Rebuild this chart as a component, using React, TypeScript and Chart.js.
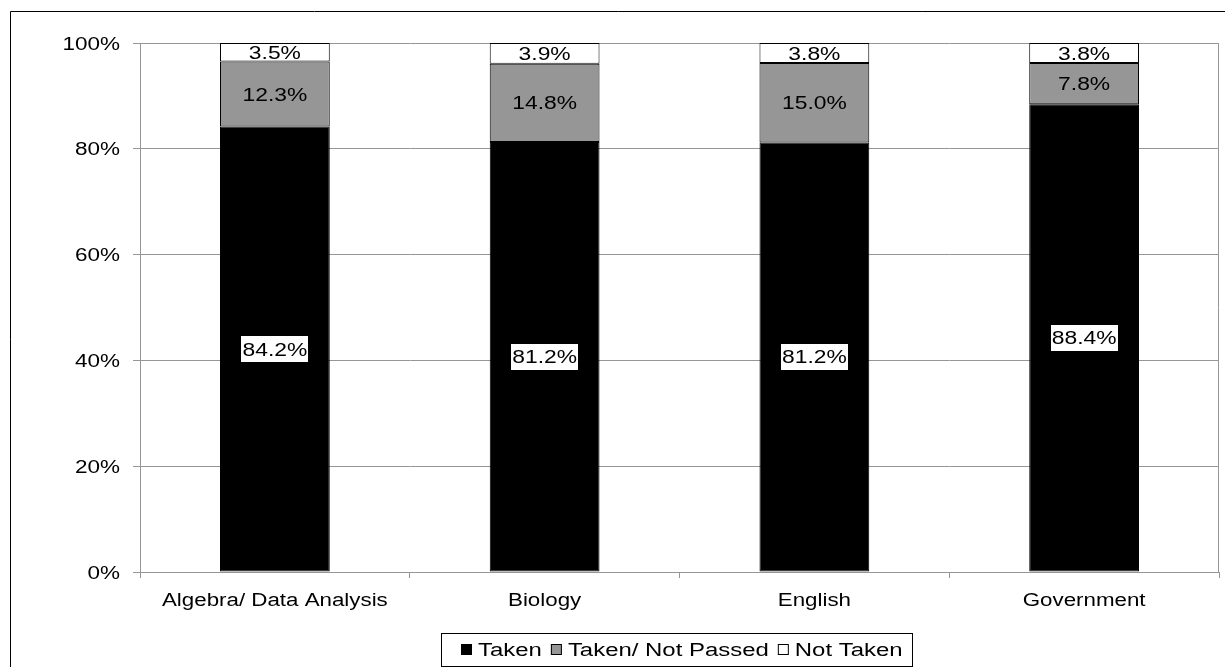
import React, { useEffect, useRef } from "react";
import { Chart, registerables } from "chart.js";

Chart.register(...registerables);

const categories = ["Algebra/ Data Analysis", "Biology", "English", "Government"];
const seriesNames = ["Taken", "Taken/ Not Passed", "Not Taken"];
const taken = [84.2, 81.2, 81.2, 88.4];
const takenNotPassed = [12.3, 14.8, 15.0, 7.8];
const notTaken = [3.5, 3.9, 3.8, 3.8];
const yTickValues = [0, 20, 40, 60, 80, 100];

const seriesColors = ["#000000", "#969696", "#ffffff"];
const GRAY = "#969696";
const FONT = "'Liberation Sans', Arial, Helvetica, sans-serif";
const FONT_SIZE = 18;
const CAP_OFFSET = 6.5; // baseline offset from cap-height centre

function drawStretched(
  ctx: CanvasRenderingContext2D,
  text: string,
  x: number,
  baseline: number,
  align: CanvasTextAlign,
  sx: number
) {
  ctx.save();
  ctx.font = `${FONT_SIZE}px ${FONT}`;
  ctx.textAlign = align;
  ctx.textBaseline = "alphabetic";
  ctx.fillStyle = "#000000";
  ctx.translate(x, baseline);
  ctx.scale(sx, 1);
  ctx.fillText(text, 0, 0);
  ctx.restore();
}

function measureStretched(ctx: CanvasRenderingContext2D, text: string, sx: number) {
  ctx.save();
  ctx.font = `${FONT_SIZE}px ${FONT}`;
  const w = ctx.measureText(text).width * sx;
  ctx.restore();
  return w;
}

export default function App() {
  const ref = useRef<HTMLCanvasElement | null>(null);

  useEffect(() => {
    document.body.style.margin = "0";
    const canvas = ref.current;
    if (!canvas) return;

    const raw = [taken, takenNotPassed, notTaken];
    const totals = categories.map((_, i) => raw.reduce((s, arr) => s + arr[i], 0));
    const shares = raw.map((arr) => arr.map((v, i) => (v / totals[i]) * 100));

    const framePlugin = {
      id: "frame",
      beforeDraw(chart: any) {
        const ctx = chart.ctx;
        ctx.save();
        ctx.fillStyle = "#ffffff";
        ctx.fillRect(0, 0, chart.width, chart.height);
        ctx.strokeStyle = "#000000";
        ctx.lineWidth = 1;
        ctx.beginPath();
        ctx.moveTo(10.5, chart.height + 5);
        ctx.lineTo(10.5, 11.5);
        ctx.lineTo(chart.width + 5, 11.5);
        ctx.stroke();
        ctx.restore();
      },
      afterDraw(chart: any) {
        const ctx = chart.ctx;
        const a = chart.chartArea;
        ctx.save();
        ctx.strokeStyle = GRAY;
        ctx.lineWidth = 1;
        ctx.beginPath();
        ctx.moveTo(Math.round(a.right) - 0.5, a.top);
        ctx.lineTo(Math.round(a.right) - 0.5, a.bottom);
        ctx.stroke();
        ctx.restore();

        const yScale = chart.scales.y;
        yScale.ticks.forEach((t: any) => {
          const y = yScale.getPixelForValue(t.value);
          drawStretched(ctx, `${t.value}%`, a.left - 20, y + CAP_OFFSET, "right", 1.25);
        });
        const xScale = chart.scales.x;
        categories.forEach((c, i) => {
          const x = xScale.getPixelForValue(i);
          drawStretched(ctx, c, x, a.bottom + 33.5, "center", 1.24);
        });
      },
    };

    const labelPlugin = {
      id: "labels",
      afterDatasetsDraw(chart: any) {
        const ctx = chart.ctx;
        const sx = 1.27;
        chart.data.datasets.forEach((_ds: any, di: number) => {
          const meta = chart.getDatasetMeta(di);
          meta.data.forEach((el: any, i: number) => {
            const text = raw[di][i].toFixed(1) + "%";
            const cx = el.x;
            const cy = (el.y + el.base) / 2;
            if (di === 0) {
              const w = measureStretched(ctx, text, sx);
              ctx.save();
              ctx.fillStyle = "#ffffff";
              ctx.fillRect(Math.round(cx - w / 2) - 1, Math.round(cy - 13), Math.round(w) + 2, 26);
              ctx.restore();
            }
            drawStretched(ctx, text, cx, cy + CAP_OFFSET, "center", sx);
          });
        });
      },
    };

    const legendPlugin = {
      id: "customLegend",
      afterDraw(chart: any) {
        const ctx = chart.ctx;
        const a = chart.chartArea;
        const sx = 1.33;
        const sq = 11;
        const widths = seriesNames.map((n) => measureStretched(ctx, n, sx));
        const padL = 20;
        const padR = 9;
        const gap = 9;
        const textGap = 6;
        const total =
          padL +
          widths.reduce((s, w) => s + sq + textGap + w, 0) +
          gap * (seriesNames.length - 1) +
          padR;
        const centerX = (a.left + a.right) / 2 - 3;
        const left = Math.round(centerX - total / 2);
        const top = 633;
        const h = 33;
        ctx.save();
        ctx.strokeStyle = "#000000";
        ctx.lineWidth = 1;
        ctx.strokeRect(left + 0.5, top + 0.5, Math.round(total), h);
        const cy = top + h / 2;
        let x = left + padL;
        seriesNames.forEach((n, i) => {
          const sy = Math.round(cy - sq / 2);
          ctx.fillStyle = seriesColors[i];
          ctx.fillRect(x, sy, sq, sq);
          ctx.strokeStyle = "#000000";
          ctx.strokeRect(x + 0.5, sy + 0.5, sq - 1, sq - 1);
          x += sq + textGap;
          drawStretched(ctx, n, x, cy + CAP_OFFSET, "left", sx);
          x += widths[i] + gap;
        });
        ctx.restore();
      },
    };

    const chart = new Chart(canvas, {
      type: "bar",
      data: {
        labels: categories,
        datasets: seriesNames.map((name, i) => ({
          label: name,
          data: shares[i],
          backgroundColor: seriesColors[i],
          borderColor: "#000000",
          borderWidth: 1,
          borderSkipped: false,
          barPercentage: 0.407,
          categoryPercentage: 1,
        })),
      },
      options: {
        responsive: false,
        animation: false,
        events: [],
        layout: { padding: { top: 43, right: 6, bottom: 0, left: 0 } },
        plugins: {
          legend: { display: false },
          tooltip: { enabled: false },
          title: { display: false },
        },
        scales: {
          x: {
            stacked: true,
            offset: true,
            grid: {
              offset: true,
              drawOnChartArea: false,
              drawTicks: true,
              tickLength: 6,
              color: GRAY,
            },
            border: { display: true, color: GRAY },
            ticks: { display: false, autoSkip: false, maxRotation: 0 },
            afterFit(scale: any) {
              scale.height = 95;
            },
          },
          y: {
            stacked: true,
            min: 0,
            max: 100,
            afterBuildTicks(scale: any) {
              scale.ticks = yTickValues.map((v) => ({ value: v }));
            },
            grid: {
              color: GRAY,
              tickLength: 7,
              drawTicks: true,
            },
            border: { display: true, color: GRAY },
            ticks: { display: false },
            afterFit(scale: any) {
              scale.width = 140;
            },
          },
        },
      },
      plugins: [framePlugin, labelPlugin, legendPlugin],
    });

    return () => chart.destroy();
  }, []);

  return (
    <div style={{ width: 1225, height: 667 }}>
      <canvas ref={ref} width={1225} height={667} style={{ display: "block", width: 1225, height: 667 }} />
    </div>
  );
}
